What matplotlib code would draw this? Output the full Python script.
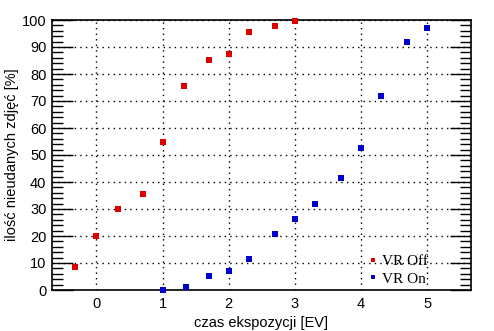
import numpy as np
import matplotlib.pyplot as plt
from matplotlib.ticker import MultipleLocator

# Data
ev_off = [-0.33, 0.0, 0.33, 0.7, 1.0, 1.33, 1.7, 2.0, 2.3, 2.7, 3.0]
fail_off = [8.4, 20.0, 30.0, 35.4, 54.7, 75.4, 85.1, 87.3, 95.4, 97.7, 99.5]

ev_on = [1.0, 1.36, 1.7, 2.0, 2.3, 2.7, 3.0, 3.3, 3.7, 4.0, 4.3, 4.7, 5.0]
fail_on = [0.0, 1.0, 5.1, 6.9, 11.4, 20.6, 26.2, 31.7, 41.4, 52.5, 71.7, 91.7, 96.9]

x_ticks = [0, 1, 2, 3, 4, 5]
y_ticks = [0, 10, 20, 30, 40, 50, 60, 70, 80, 90, 100]

plt.rcParams['font.family'] = ['Liberation Sans', 'DejaVu Sans']

fig = plt.figure(figsize=(4.94, 3.31), dpi=100)
ax = fig.add_axes([52 / 494, 1 - 290 / 331, 419 / 494, 270 / 331])

ax.plot(ev_off, fail_off, 's', color='#dd0000', markersize=5, markeredgewidth=0,
        label='VR Off', clip_on=False, zorder=3)
ax.plot(ev_on, fail_on, 's', color='#0000cc', markersize=5, markeredgewidth=0,
        label='VR On', clip_on=False, zorder=3)

ax.set_xlim(-0.67, 5.66)
ax.set_ylim(0, 100)
ax.set_xticks(x_ticks)
ax.set_yticks(y_ticks)
ax.yaxis.set_minor_locator(MultipleLocator(2))

ax.grid(True, which='major', color='black', linestyle=(0, (1, 3)), linewidth=1)
ax.tick_params(axis='x', length=0, labelsize=10.5, pad=5)
ax.tick_params(axis='y', which='major', direction='in', length=15, width=1,
               left=True, right=True, labelsize=10.5, pad=4)
ax.tick_params(axis='y', which='minor', direction='in', length=8, width=1,
               left=True, right=True)
for s in ax.spines.values():
    s.set_linewidth(1.2)

ax.set_xlabel('czas ekspozycji [EV]', fontsize=10.5, labelpad=4)
ax.set_ylabel('ilość nieudanych zdjęć [%]', fontsize=10.5, labelpad=2)

ax.legend(loc='lower right', bbox_to_anchor=(0.93, -0.035), frameon=False,
          prop={'family': 'Liberation Serif', 'size': 11}, markerscale=0.7,
          handlelength=0.6, handletextpad=0.3, labelspacing=0.25)

fig.savefig('out.png', dpi=100)
